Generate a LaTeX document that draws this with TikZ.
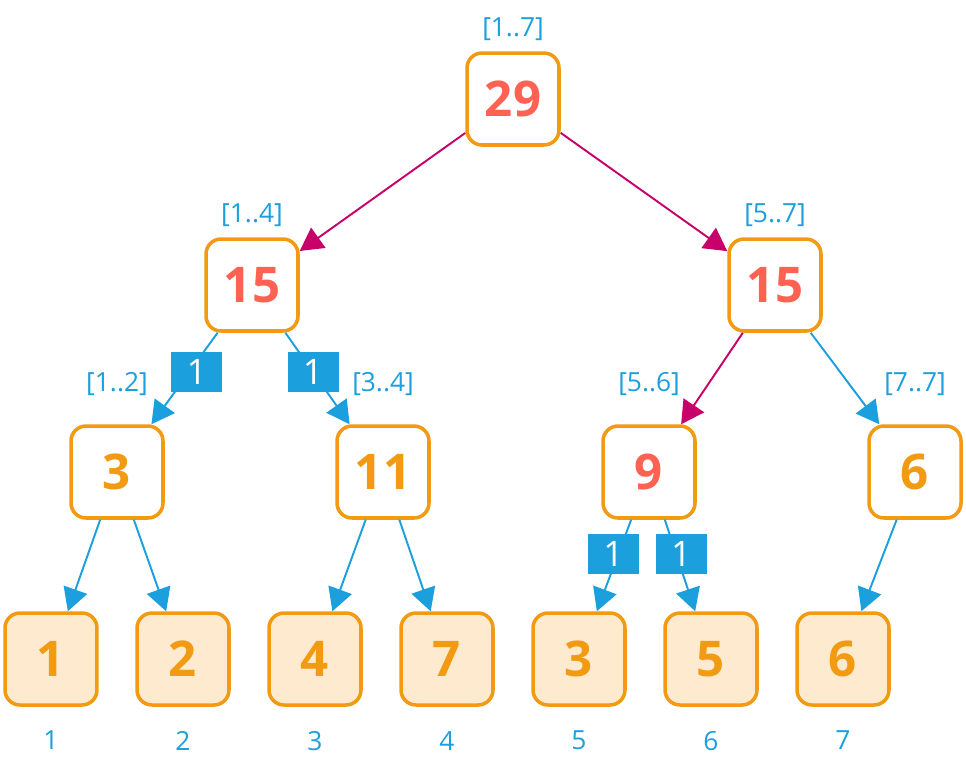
\documentclass[tikz,border=0pt]{standalone}
\usepackage{fontspec}
\setmainfont{Open Sans}
\usetikzlibrary{arrows.meta,positioning}
\definecolor{segorange}{HTML}{F19A12}
\definecolor{segred}{HTML}{FF6152}
\definecolor{segblue}{HTML}{1B9FDD}
\definecolor{segmag}{HTML}{C8006A}
\definecolor{leaffill}{HTML}{FDEACF}

\begin{document}
\begin{tikzpicture}[x=0.02cm, y=-0.02cm,
    box/.style={draw=segorange, line width=2pt, rounded corners=0.3cm,
        minimum size=1.84cm, inner sep=0pt,
        font=\bfseries\fontsize{28}{28}\selectfont},
    sum/.style={box, fill=white, text=segred},
    part/.style={box, fill=white, text=segorange},
    leaf/.style={box, fill=leaffill, text=segorange},
    span/.style={text=segblue, inner sep=0pt, font=\fontsize{15}{15}\selectfont},
    edge/.style={draw=segblue, line width=1.1pt, -{Triangle[length=13pt,width=14pt]}},
    hotedge/.style={edge, draw=segmag},
    count/.style={fill=segblue, text=white, minimum width=1.02cm,
        minimum height=0.8cm, inner sep=0pt, font=\fontsize{20}{20}\selectfont}]
    \useasboundingbox (0,0) rectangle (966,772);
    % tree of sums
    \node[sum] (n17) at (513,99) {29};
    \node[sum] (n14) at (252,285) {15};
    \node[sum] (n57) at (775,285) {15};
    \node[part] (n12) at (117,472) {3};
    \node[part] (n34) at (383,472) {11};
    \node[sum] (n56) at (649,472) {9};
    \node[part] (n77) at (915,472) {6};
    % leaves
    \node[leaf] (l1) at (51,659) {1};
    \node[leaf] (l2) at (183,659) {2};
    \node[leaf] (l3) at (315,659) {4};
    \node[leaf] (l4) at (447,659) {7};
    \node[leaf] (l5) at (579,659) {3};
    \node[leaf] (l6) at (711,659) {5};
    \node[leaf] (l7) at (843,659) {6};
    % ranges
    \node[span] at ([yshift=0.44cm]n17.north) {[1..7]};
    \node[span] at ([yshift=0.44cm]n14.north) {[1..4]};
    \node[span] at ([yshift=0.44cm]n57.north) {[5..7]};
    \node[span] at ([yshift=0.8cm]n12.north) {[1..2]};
    \node[span] at ([yshift=0.8cm]n34.north) {[3..4]};
    \node[span] at ([yshift=0.8cm]n56.north) {[5..6]};
    \node[span] at ([yshift=0.8cm]n77.north) {[7..7]};
    % indices
    \node[span, below=0.48cm of l1] (i1) {1};
    \node[span, below=0.48cm of l2] (i2) {2};
    \node[span, below=0.48cm of l3] (i3) {3};
    \node[span, below=0.48cm of l4] (i4) {4};
    \node[span, below=0.48cm of l5] (i5) {5};
    \node[span, below=0.48cm of l6] (i6) {6};
    \node[span, below=0.48cm of l7] (i7) {7};
    % edges
    \draw[hotedge] (n17) -- (n14);
    \draw[hotedge] (n17) -- (n57);
    \draw[edge] (n14) -- node[count, pos=.43, xshift=0.15cm] {1} (n12);
    \draw[edge] (n14) -- node[count, pos=.43] {1} (n34);
    \draw[hotedge] (n57) -- (n56);
    \draw[edge] (n57) -- (n77);
    \draw[edge] (n12) -- (l1);
    \draw[edge] (n12) -- (l2);
    \draw[edge] (n34) -- (l3);
    \draw[edge] (n34) -- (l4);
    \draw[edge] (n56) -- node[count, pos=.37, xshift=-0.1cm] {1} (l5);
    \draw[edge] (n56) -- node[count, pos=.37, xshift=0.1cm] {1} (l6);
    \draw[edge] (n77) -- (l7);
\end{tikzpicture}
\end{document}
